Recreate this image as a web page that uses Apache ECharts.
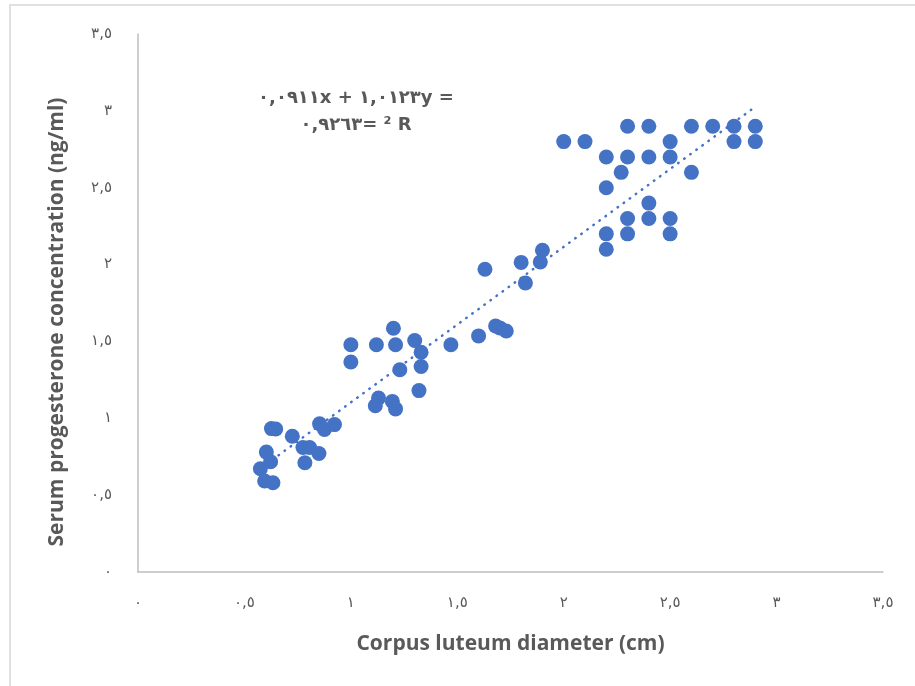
<!DOCTYPE html>
<html>
<head>
<meta charset="utf-8">
<script src="https://cdn.jsdelivr.net/npm/echarts@6/dist/echarts.min.js"></script>
<style>
  html, body { margin: 0; padding: 0; background: #fff; }
  #chart { width: 915px; height: 686px; }
</style>
</head>
<body>
<div id="chart"></div>
<script>
// corpus luteum diameter (cm)
var diameter = [
    2.3, 2.4, 2.6, 2.7, 2.8, 2.9,
    2.0, 2.1, 2.5, 2.8, 2.9,
    2.2, 2.3, 2.4, 2.5,
    2.27, 2.6,
    2.2,
    2.4,
    2.3, 2.4, 2.5,
    2.2, 2.3, 2.5,
    2.2,
    1.63, 1.80, 1.90, 1.89, 1.82,
    1.60, 1.68, 1.70, 1.73, 1.47,
    1.20, 1.0, 1.12, 1.21, 1.30, 1.33, 1.0, 1.23, 1.33, 1.32,
    1.13, 1.115, 1.195, 1.21,
    0.627, 0.647, 0.725, 0.603, 0.623, 0.575, 0.595, 0.634,
    0.775, 0.806, 0.85, 0.784, 0.853, 0.876, 0.923
];
// serum progesterone (ng/ml)
var progesterone = [
    2.9, 2.9, 2.9, 2.9, 2.9, 2.9,
    2.8, 2.8, 2.8, 2.8, 2.8,
    2.7, 2.7, 2.7, 2.7,
    2.6, 2.6,
    2.5,
    2.4,
    2.3, 2.3, 2.3,
    2.2, 2.2, 2.2,
    2.1,
    1.97, 2.014, 2.093, 2.017, 1.88,
    1.536, 1.60, 1.588, 1.568, 1.478,
    1.586, 1.478, 1.478, 1.478, 1.506, 1.43, 1.366, 1.316, 1.337, 1.18,
    1.132, 1.082, 1.11, 1.061,
    0.933, 0.93, 0.883, 0.78, 0.717, 0.672, 0.592, 0.581,
    0.81, 0.81, 0.771, 0.711, 0.964, 0.927, 0.959
];
var tickLabels = ['٠', '٠,٥', '١', '١,٥', '٢', '٢,٥', '٣', '٣,٥'];
// trendline from excel: y = 1.0123x + 0.0911, R² = 0.9263
var slope = 1.0123;
var intercept = 0.0911;
var eqLine1 = '٠,٠٩١١x + ١,٠١٢٣y =';
var eqLine2 = '٠,٩٢٦٣= ² R';

var points = [];
for (var i = 0; i < diameter.length; i++) {
    points.push([diameter[i], progesterone[i]]);
}
var xMin = Math.min.apply(null, diameter);
var xMax = Math.max.apply(null, diameter);
var trend = [
    [xMin, slope * xMin + intercept],
    [xMax, slope * xMax + intercept]
];

function tickFmt(v) {
    return tickLabels[Math.round(v * 2)];
}

var myChart = echarts.init(document.getElementById('chart'));
var option = {
    animation: false,
    backgroundColor: '#fff',
    grid: { left: 138, right: 32, top: 34, bottom: 114 },
    xAxis: {
        type: 'value', min: 0, max: 3.5, interval: 0.5,
        name: 'Corpus luteum diameter (cm)',
        nameLocation: 'middle', nameGap: 62,
        nameTextStyle: { color: '#595959', fontSize: 21, fontWeight: 'bold', fontFamily: 'Open Sans' },
        axisLine: { lineStyle: { color: '#bfbfbf', width: 1.5 } },
        axisTick: { show: false },
        splitLine: { show: false },
        axisLabel: { formatter: tickFmt, color: '#595959', fontSize: 15, margin: 24, fontFamily: 'DejaVu Sans' }
    },
    yAxis: {
        type: 'value', min: 0, max: 3.5, interval: 0.5,
        name: 'Serum progesterone concentration (ng/ml)',
        nameLocation: 'middle', nameGap: 70,
        nameTextStyle: { color: '#595959', fontSize: 21, fontWeight: 'bold', fontFamily: 'Open Sans', padding: [0, 38, 0, 0] },
        axisLine: { show: true, lineStyle: { color: '#bfbfbf', width: 1.5 } },
        axisTick: { show: false },
        splitLine: { show: false },
        axisLabel: { formatter: tickFmt, color: '#595959', fontSize: 15, margin: 26, fontFamily: 'DejaVu Sans' }
    },
    series: [
        {
            type: 'scatter',
            data: points,
            symbolSize: 15,
            itemStyle: { color: '#4472C4', opacity: 1 }
        },
        {
            type: 'line',
            data: trend,
            symbol: 'none',
            z: 3,
            lineStyle: { color: '#4472C4', width: 2.5, type: [0.5, 7], cap: 'round' }
        }
    ],
    graphic: [
        { type: 'line', shape: { x1: 9, y1: 5, x2: 915, y2: 5 }, style: { stroke: '#e0e0e0', lineWidth: 2 } },
        { type: 'line', shape: { x1: 10, y1: 5, x2: 10, y2: 686 }, style: { stroke: '#e0e0e0', lineWidth: 2 } },
        {
            type: 'text', x: 356, y: 98,
            style: { text: eqLine1, fill: '#595959', font: 'bold 18px "DejaVu Sans"', align: 'center', verticalAlign: 'middle' }
        },
        {
            type: 'text', x: 356, y: 125,
            style: { text: eqLine2, fill: '#595959', font: 'bold 18px "DejaVu Sans"', align: 'center', verticalAlign: 'middle' }
        }
    ]
};
myChart.setOption(option);
</script>
</body>
</html>
